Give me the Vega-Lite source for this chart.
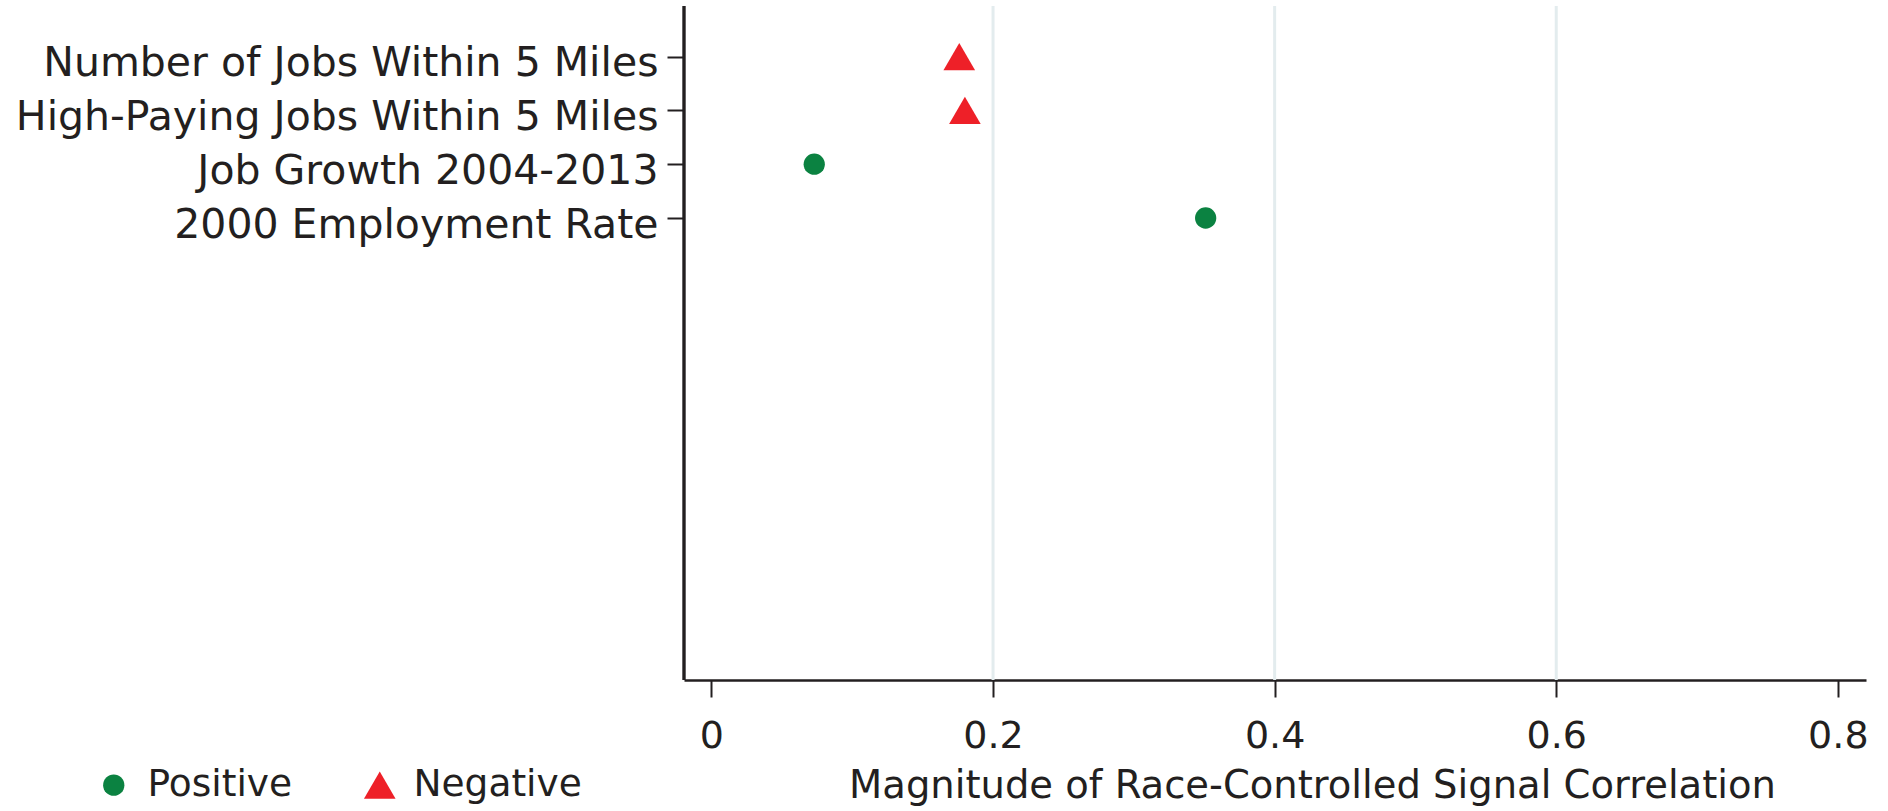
{
  "$schema": "https://vega.github.io/schema/vega-lite/v6.json",
  "width": 1182,
  "height": 674,
  "autosize": {"type": "none"},
  "padding": {"left": 684, "top": 6, "right": 22, "bottom": 131},
  "background": "white",
  "data": {
    "values": [
      {"signal": "Number of Jobs Within 5 Miles", "magnitude": 0.176, "sign": "Negative"},
      {"signal": "High-Paying Jobs Within 5 Miles", "magnitude": 0.180, "sign": "Negative"},
      {"signal": "Job Growth 2004-2013", "magnitude": 0.073, "sign": "Positive"},
      {"signal": "2000 Employment Rate", "magnitude": 0.351, "sign": "Positive"}
    ]
  },
  "layer": [
    {
      "data": {"values": [{"grid": 0.2}, {"grid": 0.4}, {"grid": 0.6}]},
      "mark": {"type": "rule", "color": "#e3ecee", "strokeWidth": 3},
      "encoding": {
        "x": {"field": "grid", "type": "quantitative"}
      }
    },
    {
      "mark": {"type": "rule", "color": "#231f20", "strokeWidth": 2.5},
      "encoding": {
        "x": {"datum": -0.0195, "type": "quantitative"}
      }
    },
    {
      "mark": {"type": "point", "filled": true, "opacity": 1, "strokeWidth": 0},
      "encoding": {
        "x": {
          "field": "magnitude",
          "type": "quantitative",
          "scale": {"domain": [-0.0195, 0.82], "nice": false, "zero": false},
          "axis": {
            "title": "Magnitude of Race-Controlled Signal Correlation",
            "values": [0, 0.2, 0.4, 0.6, 0.8],
            "labelExpr": "format(datum.value, '~g')",
            "grid": false,
            "tickSize": 17,
            "tickWidth": 2,
            "labelPadding": 50,
            "labelBaseline": "alphabetic",
            "labelFontSize": 38,
            "titleFontSize": 38.5,
            "titleFontWeight": "normal",
            "titleBaseline": "alphabetic",
            "titleAlign": "center",
            "titleX": 628,
            "titleY": 117
          }
        },
        "y": {
          "field": "signal",
          "type": "nominal",
          "sort": ["Number of Jobs Within 5 Miles", "High-Paying Jobs Within 5 Miles", "Job Growth 2004-2013", "2000 Employment Rate"],
          "scale": {"type": "point", "range": [50.6, 212], "padding": 0, "round": false},
          "axis": {
            "title": null,
            "grid": false,
            "domain": false,
            "tickSize": 17,
            "tickWidth": 2,
            "labelPadding": 9,
            "labelBaseline": "alphabetic",
            "labelOffset": 19,
            "labelFontSize": 41,
            "labelLimit": 800
          }
        },
        "color": {
          "field": "sign",
          "type": "nominal",
          "scale": {"domain": ["Positive", "Negative"], "range": ["#0b8241", "#ee2028"]},
          "legend": {
            "title": null,
            "orient": "none",
            "direction": "horizontal",
            "legendX": -589,
            "legendY": 760,
            "padding": 0,
            "symbolSize": 1000,
            "symbolStrokeWidth": 0,
            "symbolOpacity": 1,
            "labelFontSize": 37.5,
            "labelOffset": 15,
            "labelLimit": 400,
            "columnPadding": 68,
            "labelColor": "#231f20",
            "labelFont": "DejaVu Sans",
            "encode": {
              "symbols": {"update": {"size": {"signal": "datum.value === 'Negative' ? 1000 : 452"}}}
            }
          }
        },
        "shape": {
          "field": "sign",
          "type": "nominal",
          "scale": {"domain": ["Positive", "Negative"], "range": ["circle", "triangle-up"]}
        },
        "size": {
          "condition": {"test": "datum.sign === 'Negative'", "value": 1000},
          "value": 452
        }
      }
    }
  ],
  "config": {
    "font": "DejaVu Sans",
    "view": {"stroke": null},
    "axis": {
      "domainColor": "#231f20",
      "domainWidth": 2.5,
      "tickColor": "#231f20",
      "labelColor": "#231f20",
      "titleColor": "#231f20",
      "labelFont": "DejaVu Sans",
      "titleFont": "DejaVu Sans"
    }
  }
}
